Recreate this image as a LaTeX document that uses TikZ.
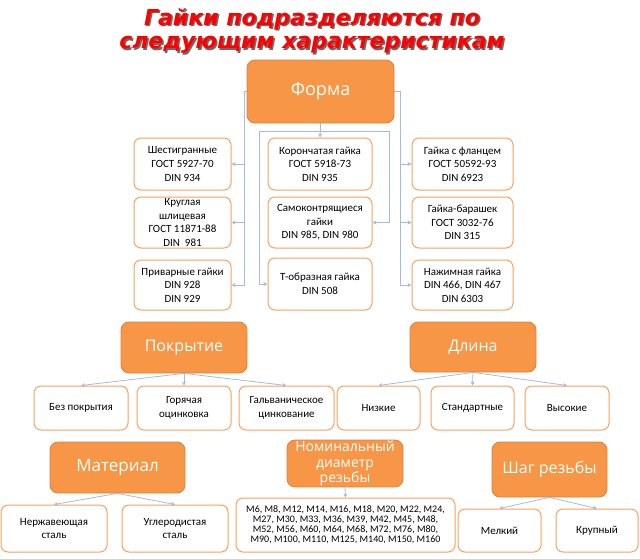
\documentclass[tikz,border=0pt]{standalone}
\usepackage{fontspec}
\setmainfont{Carlito}
\newfontfamily\headfont{Open Sans}
\newfontfamily\titlefont{DejaVu Sans}
\usetikzlibrary{arrows.meta, backgrounds}
\definecolor{nutorange}{HTML}{F79646}
\definecolor{nutedge}{HTML}{D9803E}
\definecolor{boxedge}{HTML}{F7A25E}
\definecolor{linkblue}{HTML}{A3BCDB}
\definecolor{titlered}{HTML}{FF0000}
\definecolor{titleshade}{HTML}{6A6A6A}
\tikzstyle{head} = [rectangle, rounded corners=8pt, draw=nutedge, line width=0.8pt, fill=nutorange, text=white, align=center, inner sep=1pt, font=\headfont\fontsize{16}{18}\selectfont]
\tikzstyle{item} = [rectangle, rounded corners=7pt, draw=boxedge, line width=1pt, fill=white, align=center, inner sep=1pt, font=\fontsize{11}{13.6}\selectfont]
\tikzstyle{title} = [text=titlered, font=\titlefont\bfseries\itshape\fontsize{22}{24}\selectfont]
\tikzstyle{arrow} = [draw=linkblue, line width=0.8pt, -{Stealth[length=4pt, width=4pt]}]

\begin{document}
\begin{tikzpicture}[x=1pt, y=-1pt]
    \useasboundingbox (0,0) rectangle (640,558);
    % title
    \node (t1s) [title, text=titleshade] at (313.5,20.5) {Гайки подразделяются по};
    \node (t1) [title] at (312,19) {Гайки подразделяются по};
    \node (t2s) [title, text=titleshade] at (313.5,46.5) {следующим характеристикам};
    \node (t2) [title] at (312,45) {следующим характеристикам};

    % shape
    \node (forma) [head, minimum width=147, minimum height=63, font=\headfont\fontsize{18}{20}\selectfont] at (320.5,91.5) {Форма};
    \node (hex) [item, minimum width=97, minimum height=52] at (182.5,164) {Шестигранные\\ГОСТ 5927-70\\DIN 934};
    \node (round) [item, minimum width=97, minimum height=51] at (182.5,222.5) {Круглая\\шлицевая\\ГОСТ 11871-88\\DIN\ \ 981};
    \node (weld) [item, minimum width=97, minimum height=50] at (182.5,285) {Приварные гайки\\DIN 928\\DIN 929};
    \node (crown) [item, minimum width=104, minimum height=52] at (320,164) {Корончатая гайка\\ГОСТ 5918-73\\DIN 935};
    \node (lock) [item, minimum width=104, minimum height=51] at (320,222.5) {Самоконтрящиеся\\гайки\\DIN 985, DIN 980};
    \node (tee) [item, minimum width=104, minimum height=52] at (320,284) {Т-образная гайка\\DIN 508};
    \node (flange) [item, minimum width=101, minimum height=52] at (462.5,164) {Гайка с фланцем\\ГОСТ 50592-93\\DIN 6923};
    \node (wing) [item, minimum width=101, minimum height=51] at (462.5,222.5) {Гайка-барашек\\ГОСТ 3032-76\\DIN 315};
    \node (press) [item, minimum width=101, minimum height=50] at (462.5,285) {Нажимная гайка\\DIN 466, DIN 467\\DIN 6303};

    % coating and length
    \node (coat) [head, minimum width=126, minimum height=51] at (184,347.5) {Покрытие};
    \node (length) [head, minimum width=126, minimum height=50] at (473,347) {Длина};
    \node (bare) [item, minimum width=94, minimum height=44] at (81,408) {Без покрытия};
    \node (hot) [item, minimum width=94, minimum height=44] at (184,408) {Горячая\\оцинковка};
    \node (galv) [item, minimum width=95, minimum height=44] at (286.5,408) {Гальваническое\\цинкование};
    \node (low) [item, minimum width=83, minimum height=44] at (378.5,408) {Низкие};
    \node (std) [item, minimum width=83, minimum height=44] at (472.5,408) {Стандартные};
    \node (high) [item, minimum width=84, minimum height=44] at (567,408) {Высокие};

    % material, diameter, pitch
    \node (mat) [head, minimum width=135, minimum height=51, font=\headfont\fontsize{17}{19}\selectfont] at (117.5,467.5) {Материал};
    \node (diam) [head, minimum width=116, minimum height=43, font=\headfont\fontsize{14}{15.5}\selectfont] at (345,463.5) {Номинальный\\диаметр\\резьбы};
    \node (pitch) [head, minimum width=115, minimum height=55] at (549.5,469.5) {Шаг резьбы};
    \node (stain) [item, minimum width=106, minimum height=47] at (54,528.5) {Нержавеющая\\сталь};
    \node (carbon) [item, minimum width=106, minimum height=47] at (175,528.5) {Углеродистая\\сталь};
    \node (sizes) [item, minimum width=219, minimum height=54, font=\fontsize{10}{10}\selectfont] at (345.5,525) {M6, M8, M12, M14, M16, M18, M20, M22, M24,\\M27, M30, M33, M36, M39, M42, M45, M48,\\M52, M56, M60, M64, M68, M72, M76, M80,\\M90, M100, M110, M125, M140, M150, M160};
    \node (fine) [item, minimum width=83, minimum height=43] at (499.5,530.5) {Мелкий};
    \node (coarse) [item, minimum width=82, minimum height=43] at (597,530.5) {Крупный};

    \begin{scope}[on background layer]
        \coordinate (fl) at (244,100);
        \coordinate (fr) at (400,100);
        \coordinate (ml) at (259,131);
        \coordinate (mr) at (389,131);
        \foreach \j in {hex, round, weld} {
            \draw [arrow] (forma.center) -| (fl) |- (\j.east);
        }
        \foreach \j in {flange, wing, press} {
            \draw [arrow] (forma.center) -| (fr) |- (\j.west);
        }
        \draw [arrow] (forma.south) -- (crown.north);
        \draw [arrow] (forma.south) |- (ml) |- (tee.west);
        \draw [arrow] (forma.south) |- (mr) |- (lock.east);
    \end{scope}

    \foreach \i/\j in {coat/bare, coat/hot, coat/galv, length/low, length/std, length/high, mat/stain, mat/carbon, diam/sizes, pitch/fine, pitch/coarse} {
        \draw [arrow] (\i.south) -- (\j.north);
    }
\end{tikzpicture}
\end{document}
